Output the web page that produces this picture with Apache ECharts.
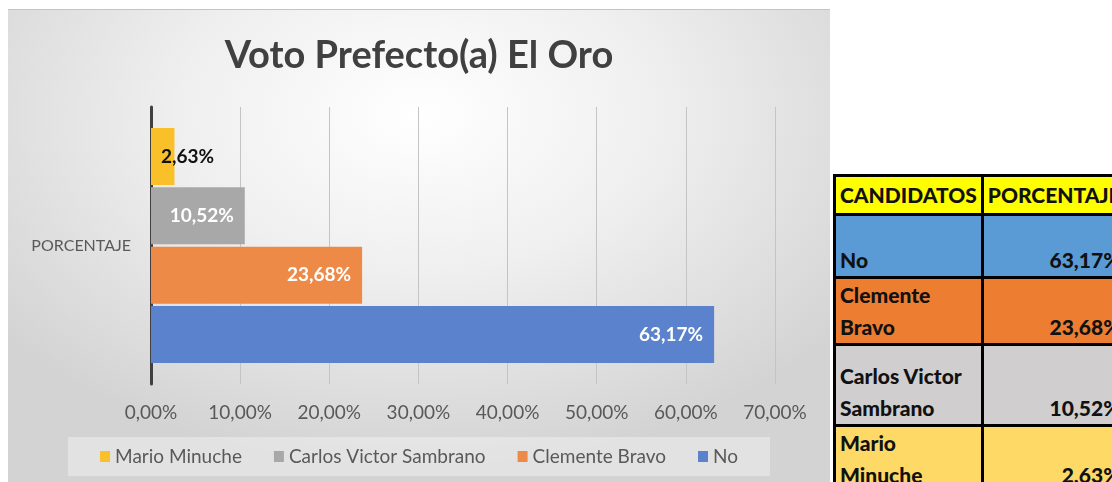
<!DOCTYPE html>
<html>
<head>
  <meta charset="utf-8">
  <title>Voto Prefecto(a) El Oro</title>
  <script src="https://cdn.jsdelivr.net/npm/echarts@6.0.0/dist/echarts.min.js"></script>
  <style>
    body {
      margin: 0;
      width: 1112px;
      height: 482px;
      overflow: hidden;
      background: #fff;
      font-family: Lato, sans-serif;
    }
    #chart {
      position: absolute;
      left: 8px;
      top: 9px;
      width: 822px;
      height: 473px;
      border-top: 1px solid #c4c4c4;
      background: radial-gradient(ellipse 65% 75% at 50% 22%, #ffffff 0%, #efefef 45%, #d3d3d3 100%);
    }
    #tabla {
      position: absolute;
      left: 833px;
      top: 174px;
      border-collapse: collapse;
      font-family: Lato, sans-serif;
      font-weight: 900;
      font-size: 21px;
      color: #111;
    }
    #tabla td {
      border: 3px solid #000;
      padding: 0 4px;
      line-height: 32px;
      vertical-align: bottom;
      white-space: pre-line;
    }
    #tabla td.val { text-align: right; }
  </style>
</head>
<body>
  <div id="chart"></div>
  <table id="tabla"></table>
  <script>
    // datos del grafico
    const categorias = ['PORCENTAJE'];
    const candidatos = ['Mario Minuche', 'Carlos Victor Sambrano', 'Clemente Bravo', 'No'];
    const porcentajes = [2.63, 10.52, 23.68, 63.17];
    const colores = ['#f9c02a', '#a8a8a8', '#ee8a47', '#5b82cc'];

    // datos de la tabla (orden de la hoja)
    const tablaNombres = ['No', 'Clemente\nBravo', 'Carlos Victor\nSambrano', 'Mario\nMinuche'];
    const tablaValores = [63.17, 23.68, 10.52, 2.63];
    const tablaColores = ['#5b9bd5', '#ed7d31', '#d0cece', '#ffd966'];
    const tablaAltos = [63, 65, 81, 64];

    const fmt = v => v.toFixed(2).replace('.', ',') + '%';

    // tabla a la derecha
    const tabla = document.getElementById('tabla');
    let html = '<tr style="background:#ffff00;height:39px"><td style="width:140px;vertical-align:middle">CANDIDATOS</td>' +
               '<td style="width:148px;vertical-align:middle">PORCENTAJE</td></tr>';
    tablaNombres.forEach((n, i) => {
      html += '<tr style="background:' + tablaColores[i] + ';height:' + tablaAltos[i] + 'px"><td>' + n +
              '</td><td class="val">' + fmt(tablaValores[i]) + '</td></tr>';
    });
    tabla.innerHTML = html;

    const chart = echarts.init(document.getElementById('chart'));

    const series = candidatos.map((nombre, i) => ({
      name: nombre,
      type: 'bar',
      data: [porcentajes[i]],
      barWidth: 57,
      barGap: '4%',
      itemStyle: { color: colores[i] },
      label: {
        show: true,
        position: i === 0 ? 'insideLeft' : 'insideRight',
        distance: i === 0 ? 10 : 11,
        color: i === 0 ? '#111' : '#fff',
        fontFamily: 'Lato',
        fontWeight: 'bold',
        fontSize: 19,
        formatter: p => fmt(p.value)
      }
    }));

    chart.setOption({
      title: {
        text: 'Voto Prefecto(a) El Oro',
        left: 'center',
        top: 22,
        textStyle: { fontFamily: 'Lato', fontWeight: 'bold', fontSize: 38, color: '#404040' }
      },
      legend: {
        data: candidatos,
        left: 'center',
        top: 427,
        padding: [10, 32],
        backgroundColor: 'rgba(255,255,255,0.35)',
        icon: 'rect',
        itemWidth: 10,
        itemHeight: 11,
        itemGap: 32,
        textStyle: { fontFamily: 'Lato', fontSize: 19, color: '#595959' }
      },
      grid: {
        left: 143,
        top: 97,
        width: 624,
        height: 277,
        outerBoundsMode: 'none'
      },
      xAxis: {
        type: 'value',
        min: 0,
        max: 70,
        interval: 10,
        axisLine: { show: false },
        axisTick: { show: false },
        splitLine: { lineStyle: { color: '#c4c4c4', width: 1 } },
        axisLabel: {
          formatter: v => fmt(v),
          fontFamily: 'Lato',
          fontSize: 19,
          color: '#595959',
          margin: 19
        }
      },
      yAxis: {
        type: 'category',
        data: categorias,
        inverse: true,
        axisLine: { show: true, lineStyle: { color: '#404040', width: 3 } },
        axisTick: { show: false },
        axisLabel: { fontFamily: 'Lato', fontSize: 16, color: '#595959', margin: 20 }
      },
      series: series
    });
  </script>
</body>
</html>
